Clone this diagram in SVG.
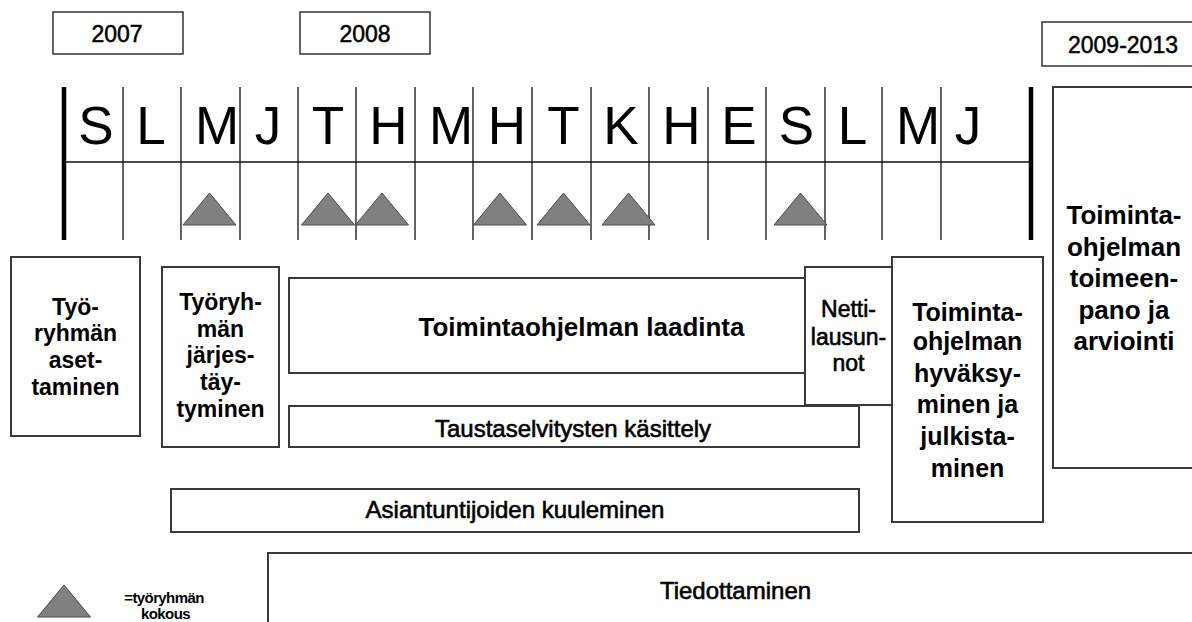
<svg xmlns="http://www.w3.org/2000/svg" width="1192" height="622" viewBox="0 0 1192 622">
<style>
text{font-family:"Liberation Sans",Arial,sans-serif;fill:#000}
.box{fill:#fff;stroke:#3a3a3a;stroke-width:2}
.yr{fill:#fff;stroke:#333;stroke-width:1.5}
.ytxt{font-size:23px;text-anchor:middle;stroke:#000;stroke-width:0.5}
.mon{font-size:53px;text-anchor:middle}
.thin{stroke:#111;stroke-width:1.3}
.thick{stroke:#000;stroke-width:4.5}
.tri{fill:#808080;stroke:#4a4a4a;stroke-width:1}
.b23{font-size:23px;font-weight:bold;text-anchor:middle}
.b25{font-size:25px;font-weight:bold;text-anchor:middle}
.b26{font-size:26px;font-weight:bold;text-anchor:middle}
.r24{font-size:24px;text-anchor:middle;stroke:#000;stroke-width:0.6}
.r23{font-size:23px;text-anchor:middle;stroke:#000;stroke-width:0.6}
.leg{font-size:15px;font-weight:bold;text-anchor:middle;letter-spacing:-0.6px}
</style>
<defs>
<polygon id="tri" class="tri" points="0,-32 26.5,0 -26.5,0"/>
</defs>
<rect width="1192" height="622" fill="#fff"/>

<g id="years">
<g id="y2007"><rect class="yr" x="53" y="12" width="130" height="42"/><text class="ytxt" x="117" y="42">2007</text></g>
<g id="y2008"><rect class="yr" x="300" y="12" width="130" height="42"/><text class="ytxt" x="365" y="42">2008</text></g>
<g id="y2009"><rect class="yr" x="1042" y="22" width="170" height="44"/><text class="ytxt" x="1123" y="53">2009-2013</text></g>
</g>

<g id="connectors">
<line class="thin" x1="64" y1="162" x2="1031" y2="162"/>
<line class="thin" x1="123" y1="87" x2="123" y2="240"/>
<line class="thin" x1="181" y1="87" x2="181" y2="240"/>
<line class="thin" x1="240" y1="87" x2="240" y2="240"/>
<line class="thin" x1="298" y1="87" x2="298" y2="240"/>
<line class="thin" x1="356" y1="87" x2="356" y2="240"/>
<line class="thin" x1="415" y1="87" x2="415" y2="240"/>
<line class="thin" x1="473" y1="87" x2="473" y2="240"/>
<line class="thin" x1="532" y1="87" x2="532" y2="240"/>
<line class="thin" x1="591" y1="87" x2="591" y2="240"/>
<line class="thin" x1="649" y1="87" x2="649" y2="240"/>
<line class="thin" x1="708" y1="87" x2="708" y2="240"/>
<line class="thin" x1="766" y1="87" x2="766" y2="240"/>
<line class="thin" x1="825" y1="87" x2="825" y2="240"/>
<line class="thin" x1="882" y1="87" x2="882" y2="240"/>
<line class="thin" x1="941" y1="87" x2="941" y2="240"/>
<line class="thick" x1="64" y1="87" x2="64" y2="240"/>
<line class="thick" x1="1031" y1="87" x2="1031" y2="240"/>
</g>

<g id="months">
<text class="mon" x="96" y="144">S</text>
<text class="mon" x="151" y="144">L</text>
<text class="mon" x="217" y="144">M</text>
<text class="mon" x="268" y="144">J</text>
<text class="mon" x="328" y="144">T</text>
<text class="mon" x="388.5" y="144">H</text>
<text class="mon" x="451" y="144">M</text>
<text class="mon" x="507" y="144">H</text>
<text class="mon" x="563.5" y="144">T</text>
<text class="mon" x="621" y="144">K</text>
<text class="mon" x="681.5" y="144">H</text>
<text class="mon" x="739" y="144">E</text>
<text class="mon" x="796.5" y="144">S</text>
<text class="mon" x="852.5" y="144">L</text>
<text class="mon" x="918" y="144">M</text>
<text class="mon" x="968" y="144">J</text>
</g>

<g id="meetings">
<use href="#tri" x="209.5" y="225"/>
<use href="#tri" x="328" y="225"/>
<use href="#tri" x="382" y="225"/>
<use href="#tri" x="500" y="225"/>
<use href="#tri" x="563.5" y="225"/>
<use href="#tri" x="628.5" y="225"/>
<use href="#tri" x="800.5" y="225"/>
</g>

<g id="asettaminen">
<rect class="box" x="11" y="257" width="129" height="179"/>
<text class="b23"><tspan x="75.5" y="315">Työ-</tspan><tspan x="75.5" y="341">ryhmän</tspan><tspan x="75.5" y="368">aset-</tspan><tspan x="75.5" y="395">taminen</tspan></text>
</g>

<g id="jarjestaytyminen">
<rect class="box" x="162" y="267" width="117" height="180"/>
<text class="b23"><tspan x="220.5" y="310">Työryh-</tspan><tspan x="220.5" y="337">män</tspan><tspan x="220.5" y="363">järjes-</tspan><tspan x="220.5" y="390">täy-</tspan><tspan x="220.5" y="417">tyminen</tspan></text>
</g>

<g id="laadinta">
<rect class="box" x="289" y="278" width="516" height="95"/>
<text class="b26" x="581.5" y="336">Toimintaohjelman laadinta</text>
</g>

<g id="taustaselvitykset">
<rect class="box" x="289" y="406" width="570" height="41"/>
<text class="r24" x="573" y="437">Taustaselvitysten käsittely</text>
</g>

<g id="nettilausunnot">
<rect class="box" x="805" y="267" width="87" height="138"/>
<text class="r23"><tspan x="848.5" y="317">Netti-</tspan><tspan x="848.5" y="345">lausun-</tspan><tspan x="848.5" y="371">not</tspan></text>
</g>

<g id="hyvaksyminen">
<rect class="box" x="892" y="257" width="151" height="265"/>
<text class="b25"><tspan x="967.5" y="321">Toiminta-</tspan><tspan x="967.5" y="350">ohjelman</tspan><tspan x="967.5" y="382">hyväksy-</tspan><tspan x="967.5" y="413">minen ja</tspan><tspan x="967.5" y="445">julkista-</tspan><tspan x="967.5" y="477">minen</tspan></text>
</g>

<g id="toimeenpano">
<rect class="box" x="1053" y="87" width="150" height="381"/>
<text class="b26"><tspan x="1124" y="224">Toiminta-</tspan><tspan x="1124" y="255.5">ohjelman</tspan><tspan x="1124" y="287">toimeen-</tspan><tspan x="1124" y="318.5">pano ja</tspan><tspan x="1124" y="350">arviointi</tspan></text>
</g>

<g id="kuuleminen">
<rect class="box" x="171" y="489" width="688" height="43"/>
<text class="r24" x="515" y="518">Asiantuntijoiden kuuleminen</text>
</g>

<g id="tiedottaminen">
<rect class="box" x="268" y="553" width="940" height="80"/>
<text class="r24" x="735.5" y="599">Tiedottaminen</text>
</g>

<g id="legend">
<use href="#tri" x="64" y="617"/>
<text class="leg"><tspan x="164" y="603">=työryhmän</tspan><tspan x="165.5" y="619">kokous</tspan></text>
</g>
</svg>
